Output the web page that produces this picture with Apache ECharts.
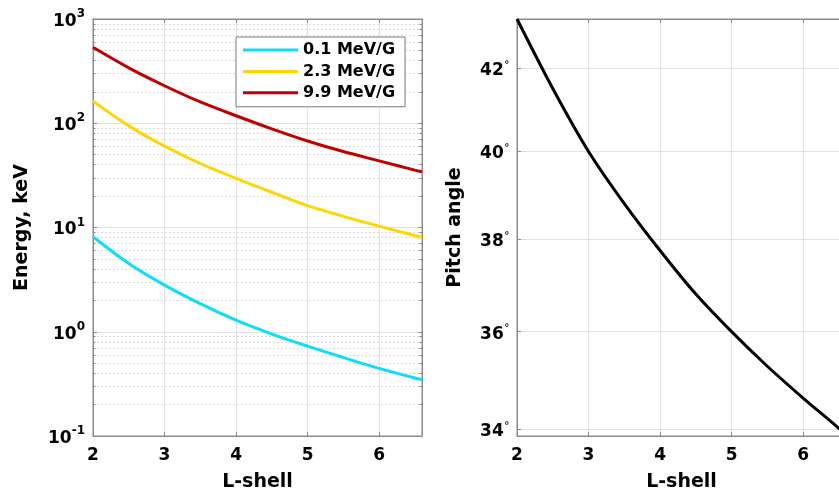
<!DOCTYPE html>
<html><head><meta charset="utf-8">
<script src="https://cdn.jsdelivr.net/npm/echarts@6/dist/echarts.min.js"></script>
<style>html,body{margin:0;padding:0;background:#fff}#c{width:839px;height:495px}</style>
</head><body><div id="c"></div>
<script>
const lShell = [2, 2.5, 3, 3.5, 4, 4.5, 5, 5.5, 6, 6.5, 6.6];
const energy01 = [8.15, 4.51, 2.80, 1.86, 1.29, 0.95, 0.728, 0.566, 0.445, 0.360, 0.348];
const energy23 = [163, 94.4, 60.4, 41.1, 29.6, 21.8, 16.2, 12.8, 10.3, 8.37, 8.0];
const energy99 = [535, 340, 229, 160, 118, 88.4, 67.5, 53.5, 43.6, 35.5, 34.2];
const pitchAngle = [43.22, 41.5, 40.0, 38.8, 37.75, 36.8, 36.0, 35.28, 34.63, 34.02, 33.87];
const seriesNames = ['0.1 MeV/G', '2.3 MeV/G', '9.9 MeV/G'];
const xTicks = [2, 3, 4, 5, 6];
const energyTicks = [0.1, 1, 10, 100, 1000];
const energyMinor = [0.2,0.3,0.4,0.5,0.6,0.7,0.8,0.9, 2,3,4,5,6,7,8,9, 20,30,40,50,60,70,80,90, 200,300,400,500,600,700,800,900];
const pitchTicks = [34, 36, 38, 40, 42];

const FONT = 'DejaVu Sans';
const AX = '#8a8a8a';
const GRIDC = '#e2e2e2';
const colors = ['#10dcfb', '#ffd700', '#c00000'];

function pairs(xs, ys) { return xs.map((x, i) => [x, ys[i]]); }

const baseX = (grid, pos, labels) => ({
  type: 'value', gridIndex: grid, position: pos, min: 2, max: 6.6, interval: 1,
  axisLine: { show: true, lineStyle: { color: AX, width: 1 } },
  axisTick: { show: true, inside: true, length: 4, lineStyle: { color: AX }, customValues: xTicks },
  axisLabel: labels ? { show: true, customValues: xTicks, margin: 11, fontFamily: FONT, fontWeight: 'bold', fontSize: 17, color: '#000' } : { show: false },
  splitLine: labels ? { show: true, lineStyle: { color: GRIDC, width: 1 } } : { show: false },
  name: labels ? 'L-shell' : '', nameLocation: 'middle', nameGap: 37,
  nameTextStyle: { fontFamily: FONT, fontWeight: 'bold', fontSize: 19, color: '#000' }
});

const lineSeries = (name, xi, yi, ys, color) => ({
  name, type: 'line', xAxisIndex: xi, yAxisIndex: yi, data: pairs(lShell, ys),
  smooth: 0.3, showSymbol: false,
  lineStyle: { color, width: 3 }, itemStyle: { color }
});

const option = {
  animation: false,
  backgroundColor: '#fff',
  grid: [
    { left: 93, top: 19, width: 329, height: 417, show: true, borderColor: AX, borderWidth: 1, containLabel: false, outerBoundsMode: 'none' },
    { left: 517, top: 19, width: 329, height: 417, show: true, borderColor: AX, borderWidth: 1, containLabel: false, outerBoundsMode: 'none' }
  ],
  legend: {
    data: seriesNames, orient: 'vertical', left: 236, top: 37,
    icon: 'rect', itemWidth: 55, itemHeight: 3, itemGap: 1.4,
    padding: [3, 10, 4, 7], borderColor: '#7a7a7a', borderWidth: 1, backgroundColor: '#fff',
    textStyle: { fontFamily: FONT, fontWeight: 'bold', fontSize: 16, color: '#000', lineHeight: 20 }
  },
  xAxis: [ baseX(0, 'bottom', true), baseX(0, 'top', false), baseX(1, 'bottom', true), baseX(1, 'top', false) ],
  yAxis: [
    { type: 'log', gridIndex: 0, position: 'left', min: 0.1, max: 1000, logBase: 10,
      axisLine: { show: true, lineStyle: { color: AX } },
      axisTick: { show: true, inside: true, length: 4, lineStyle: { color: AX }, customValues: energyTicks },
      axisLabel: { show: true, customValues: energyTicks, margin: 8,
        formatter: v => '{b|10}{s|' + Math.round(Math.log10(v)) + '}',
        rich: { b: { fontFamily: FONT, fontWeight: 'bold', fontSize: 17, color: '#000', lineHeight: 22, verticalAlign: 'bottom' },
                s: { fontFamily: FONT, fontWeight: 'bold', fontSize: 12, color: '#000', lineHeight: 22, verticalAlign: 'top' } } },
      splitLine: { show: true, lineStyle: { color: GRIDC, width: 1 } },
      name: 'Energy, keV', nameLocation: 'middle', nameGap: 61,
      nameTextStyle: { fontFamily: FONT, fontWeight: 'bold', fontSize: 19, color: '#000' } },
    { type: 'log', gridIndex: 0, position: 'right', min: 0.1, max: 1000, logBase: 10,
      axisLine: { show: true, lineStyle: { color: AX } },
      axisTick: { show: true, inside: true, length: 4, lineStyle: { color: AX }, customValues: energyTicks },
      axisLabel: { show: false }, splitLine: { show: false } },
    { type: 'log', gridIndex: 0, position: 'left', min: 0.1, max: 1000, logBase: 10,
      axisLine: { show: false },
      axisTick: { show: true, inside: true, length: 2.5, lineStyle: { color: AX }, customValues: energyMinor },
      axisLabel: { show: false },
      splitLine: { show: true, lineStyle: { color: '#d9d9d9', width: 1, type: [2, 2] } } },
    { type: 'log', gridIndex: 0, position: 'right', min: 0.1, max: 1000, logBase: 10,
      axisLine: { show: false },
      axisTick: { show: true, inside: true, length: 2.5, lineStyle: { color: AX }, customValues: energyMinor },
      axisLabel: { show: false }, splitLine: { show: false } },
    { type: 'log', gridIndex: 1, position: 'left', min: 33.87, max: 43.22, logBase: 10,
      axisLine: { show: true, lineStyle: { color: AX } },
      axisTick: { show: true, inside: true, length: 4, lineStyle: { color: AX }, customValues: pitchTicks },
      axisLabel: { show: true, customValues: pitchTicks, margin: 7,
        formatter: v => '{b|' + Math.round(v) + '}{s|∘}',
        rich: { b: { fontFamily: FONT, fontWeight: 'bold', fontSize: 17, color: '#000', lineHeight: 22, verticalAlign: 'bottom' },
                s: { fontFamily: FONT, fontWeight: 'bold', fontSize: 10, color: '#000', lineHeight: 22, verticalAlign: 'top' } } },
      splitLine: { show: true, lineStyle: { color: GRIDC, width: 1 } },
      name: 'Pitch angle', nameLocation: 'middle', nameGap: 52,
      nameTextStyle: { fontFamily: FONT, fontWeight: 'bold', fontSize: 19, color: '#000' } },
    { type: 'log', gridIndex: 1, position: 'right', min: 33.87, max: 43.22, logBase: 10,
      axisLine: { show: true, lineStyle: { color: AX } },
      axisTick: { show: true, inside: true, length: 4, lineStyle: { color: AX }, customValues: pitchTicks },
      axisLabel: { show: false }, splitLine: { show: false } }
  ],
  series: [
    lineSeries(seriesNames[0], 0, 0, energy01, colors[0]),
    lineSeries(seriesNames[1], 0, 0, energy23, colors[1]),
    lineSeries(seriesNames[2], 0, 0, energy99, colors[2]),
    lineSeries('Pitch angle', 2, 4, pitchAngle, '#000')
  ]
};
const chart = echarts.init(document.getElementById('c'), null, { renderer: 'canvas' });
chart.setOption(option);
</script>
</body></html>
